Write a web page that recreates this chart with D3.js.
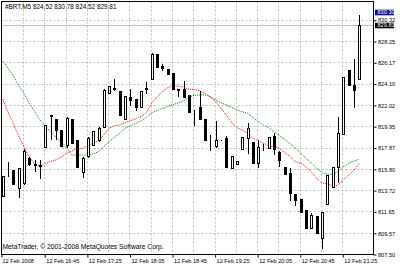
<!DOCTYPE html>
<html>
<head>
<meta charset="utf-8">
<script src="https://cdn.jsdelivr.net/npm/d3@7"></script>
<style>
	html, body { margin: 0; padding: 0; background: #fff; }
	svg { display: block; }
	text { font-family: 'Liberation Sans', Arial, sans-serif; }
</style>
</head>
<body>
<script>

var symbolTitle = '#BRT,M5  824.52 830.78 824.52 829.81';
var copyrightText = 'MetaTrader, \u00a9 2001-2008 MetaQuotes Software Corp.';

var opens = [ 813.15, 815.29, 815.68, 813.96, 814.42, 816.88, 816.24, 816.17, 817.89, 820.90,
	820.65, 819.58, 818.12, 820.65, 818.61, 815.49, 817.05, 818.12, 818.61, 819.84,
	823.21, 823.57, 823.38, 820.65, 822.82, 822.57, 821.85, 823.57, 824.52, 826.98,
	825.81, 825.52, 825.10, 823.53, 823.55, 822.99, 821.36, 821.85, 820.62, 818.02,
	818.02, 818.60, 818.83, 815.88, 816.24, 817.70, 818.80, 818.44, 816.39, 818.02,
	817.80, 819.00, 817.44, 816.00, 815.36, 813.32, 812.83, 811.79, 810.00, 811.20,
	809.06, 812.37, 814.06, 816.00, 819.19, 825.42, 823.96, 824.52 ];

var highs = [ 815.10, 816.46, 815.68, 815.88, 817.73, 816.95, 816.66, 816.66, 820.07, 821.04,
	820.65, 819.58, 820.85, 820.65, 818.61, 816.95, 818.93, 819.51, 819.84, 823.55,
	823.87, 824.55, 823.38, 822.89, 823.55, 822.57, 823.38, 824.29, 827.05, 826.98,
	825.98, 825.52, 825.10, 823.55, 824.38, 822.99, 821.53, 823.41, 820.62, 819.09,
	820.46, 818.60, 819.00, 817.05, 816.56, 818.93, 820.23, 818.44, 818.61, 818.25,
	818.87, 819.26, 817.49, 816.00, 815.85, 813.35, 812.83, 811.79, 811.47, 811.20,
	811.62, 815.20, 816.00, 820.88, 824.71, 825.42, 826.47, 830.78 ];

var lows = [ 813.15, 815.10, 814.32, 813.08, 814.32, 816.17, 815.61, 814.87, 817.89, 818.70,
	818.70, 818.02, 817.95, 818.34, 815.98, 815.00, 816.98, 818.09, 818.54, 819.84,
	823.21, 823.48, 821.04, 820.65, 822.02, 821.53, 821.85, 823.21, 824.52, 825.75,
	825.42, 825.04, 823.55, 822.89, 822.82, 821.36, 820.07, 820.62, 818.61, 817.63,
	817.89, 818.60, 815.95, 815.85, 816.24, 817.70, 817.37, 816.39, 816.00, 817.63,
	817.80, 817.24, 816.07, 815.29, 812.76, 812.27, 811.62, 810.00, 810.00, 809.52,
	808.06, 812.37, 814.06, 814.54, 819.19, 823.96, 821.79, 824.52 ];

var closes = [ 815.10, 815.25, 814.32, 815.85, 817.53, 816.27, 816.20, 816.07, 820.07, 820.99,
	819.58, 818.05, 820.75, 818.34, 816.00, 816.85, 818.80, 819.48, 819.77, 823.48,
	823.87, 823.62, 821.04, 822.89, 822.50, 821.85, 823.38, 823.67, 826.98, 825.75,
	825.62, 825.04, 823.55, 823.48, 822.82, 821.36, 821.30, 820.62, 818.61, 817.98,
	818.61, 818.60, 815.95, 817.05, 816.56, 818.93, 819.74, 816.39, 817.95, 817.98,
	818.87, 817.70, 816.66, 815.29, 813.47, 812.76, 811.62, 810.00, 811.30, 809.52,
	811.62, 815.20, 816.00, 819.26, 824.71, 823.96, 823.50, 829.81 ];

// fast (red) and slow (green) moving averages
var maFast = [ 822.57, 821.33, 820.16, 819.00, 817.92, 816.95, 816.27, 816.07, 816.32, 816.51,
	816.66, 816.90, 817.34, 817.53, 817.78, 817.80, 818.02, 818.31, 818.54, 819.09,
	819.75, 820.00, 820.07, 820.29, 820.49, 820.65, 820.88, 821.27, 822.18, 822.82,
	823.31, 823.70, 823.87, 823.87, 823.74, 823.55, 823.53, 823.41, 823.16, 822.82,
	822.34, 821.69, 821.04, 820.33, 819.80, 819.58, 819.26, 818.77, 818.51, 818.28,
	818.05, 817.95, 817.80, 817.37, 816.98, 816.49, 816.34, 816.00, 815.52, 814.87,
	814.39, 814.39, 814.06, 814.22, 814.71, 815.20, 815.68, 816.34 ];

var maSlow = [ 826.30, 825.59, 824.84, 823.90, 823.16, 822.18, 821.36, 820.55, 819.97, 819.41,
	818.87, 818.44, 817.89, 817.14, 817.14, 817.14, 817.14, 817.24, 817.47, 817.95,
	818.44, 818.87, 819.26, 819.75, 820.00, 820.23, 820.46, 820.82, 821.27, 821.46,
	821.69, 821.85, 822.04, 822.24, 822.43, 822.79, 822.96, 822.99, 822.99, 822.82,
	822.50, 822.24, 822.02, 821.79, 821.53, 821.36, 821.21, 820.82, 820.39, 820.07,
	819.80, 819.41, 819.04, 818.67, 818.22, 817.80, 817.31, 816.82, 816.34, 815.85,
	815.42, 815.29, 815.23, 815.52, 816.00, 816.34, 816.56, 816.73 ];

var priceTicks = [ 807.50, 809.57, 811.65, 813.72, 815.80, 817.87, 819.95, 822.02, 824.10, 826.17, 828.25, 830.32 ];
var bidPrice = 829.81;
var markerPrice = 831.10;
var markerLabel = '830.30';

var firstBar = Date.UTC( 2008, 1, 12, 16, 5 );
var barTimes = d3.range( opens.length ).map( function ( i ) { return new Date( firstBar + i * 300000 ); } );

var width = 400,
	height = 267,
	plot = { left: 1.5, right: 373.5, top: 1.5, bottom: 254.5 };

var bars = barTimes.map( function ( t, i ) {
	return { time: t, open: opens[i], high: highs[i], low: lows[i], close: closes[i] };
} );

var x = d3.scaleUtc()
	.domain( [ barTimes[0], barTimes[barTimes.length - 1] ] )
	.range( [ 2.7, 359.3 ] );

var y = d3.scaleLinear()
	.domain( [ 807.50, 832.14 ] )
	.range( [ 254, 1 ] );

var px = function ( t ) { return Math.round( x( t ) ); };
var py = function ( v ) { return Math.round( y( v ) ); };

var svg = d3.select( 'body' ).append( 'svg' )
	.attr( 'width', width )
	.attr( 'height', height );

svg.append( 'rect' )
	.attr( 'width', width )
	.attr( 'height', height )
	.attr( 'fill', '#fff' );

var gridTimes = barTimes.filter( function ( t, i ) { return i > 0 && i % 4 === 0; } );
var labelTimes = barTimes.filter( function ( t, i ) { return i % 8 === 0; } );

var grid = svg.append( 'g' )
	.attr( 'stroke', '#c0c0c0' )
	.attr( 'stroke-width', 1 )
	.attr( 'stroke-dasharray', '2,2' );

grid.selectAll( 'line.h' )
	.data( priceTicks.slice( 1 ) )
	.enter().append( 'line' )
	.attr( 'class', 'h' )
	.attr( 'x1', plot.left )
	.attr( 'x2', plot.right )
	.attr( 'y1', function ( d ) { return py( d ) + 0.5; } )
	.attr( 'y2', function ( d ) { return py( d ) + 0.5; } );

grid.selectAll( 'line.v' )
	.data( gridTimes )
	.enter().append( 'line' )
	.attr( 'class', 'v' )
	.attr( 'x1', function ( d ) { return px( d ) - 0.5; } )
	.attr( 'x2', function ( d ) { return px( d ) - 0.5; } )
	.attr( 'y1', plot.top )
	.attr( 'y2', plot.bottom );

// bid line
svg.append( 'line' )
	.attr( 'x1', plot.left )
	.attr( 'x2', plot.right )
	.attr( 'y1', py( bidPrice ) + 0.5 )
	.attr( 'y2', py( bidPrice ) + 0.5 )
	.attr( 'stroke', '#c0c0c0' );

var maLine = d3.line()
	.x( function ( d, i ) { return x( barTimes[i] ); } )
	.y( function ( d ) { return y( d ); } );

svg.append( 'path' )
	.datum( maSlow )
	.attr( 'd', maLine )
	.attr( 'fill', 'none' )
	.attr( 'stroke', '#008000' )
	.attr( 'stroke-width', 1 )
	.attr( 'stroke-dasharray', '1,1' );

svg.append( 'path' )
	.datum( maFast )
	.attr( 'd', maLine )
	.attr( 'fill', 'none' )
	.attr( 'stroke', '#ff0000' )
	.attr( 'stroke-width', 1 )
	.attr( 'stroke-dasharray', '1,1' );

var candles = svg.append( 'g' ).selectAll( 'g' )
	.data( bars )
	.enter().append( 'g' );

candles.append( 'line' )
	.attr( 'x1', function ( d ) { return px( d.time ) + 0.5; } )
	.attr( 'x2', function ( d ) { return px( d.time ) + 0.5; } )
	.attr( 'y1', function ( d ) { return py( d.high ); } )
	.attr( 'y2', function ( d ) { return py( d.low ) + 1; } )
	.attr( 'stroke', '#000' );

candles.append( 'rect' )
	.attr( 'x', function ( d ) { return px( d.time ) - 0.5; } )
	.attr( 'y', function ( d ) { return py( Math.max( d.open, d.close ) ) + 0.5; } )
	.attr( 'width', 2 )
	.attr( 'height', function ( d ) {
		return Math.max( 0, py( Math.min( d.open, d.close ) ) - py( Math.max( d.open, d.close ) ) );
	} )
	.attr( 'fill', function ( d ) { return d.close >= d.open ? '#fff' : '#000'; } )
	.attr( 'stroke', '#000' );

// frame
svg.append( 'rect' )
	.attr( 'x', plot.left )
	.attr( 'y', plot.top )
	.attr( 'width', plot.right - plot.left )
	.attr( 'height', plot.bottom - plot.top )
	.attr( 'fill', 'none' )
	.attr( 'stroke', '#000' );

var yAxis = svg.append( 'g' )
	.attr( 'transform', 'translate(' + plot.right + ',0.5)' )
	.call( d3.axisRight( y ).tickValues( priceTicks ).tickFormat( d3.format( '.2f' ) ).tickSize( 3 ).tickPadding( 1.5 ) );

yAxis.select( '.domain' ).remove();
yAxis.selectAll( 'text' )
	.style( 'font-size', '5.6px' )
	.style( 'font-family', "'Liberation Sans', Arial, sans-serif" )
	.attr( 'fill', '#000' );

var xAxis = svg.append( 'g' )
	.attr( 'transform', 'translate(-0.5,' + plot.bottom + ')' )
	.call( d3.axisBottom( x ).tickValues( labelTimes ).tickSize( 3 ).tickPadding( 2 )
		.tickFormat( function ( d, i ) {
			return i === 0 ? d3.utcFormat( '%d %b %Y' )( d ) : d3.utcFormat( '%d %b %H:%M' )( d );
		} ) );

xAxis.select( '.domain' ).remove();
xAxis.selectAll( '.tick line' )
	.attr( 'transform', function ( d, i ) { return i === 0 ? 'translate(' + ( plot.left + 0.5 - x( d ) ) + ',0)' : null; } );
xAxis.selectAll( 'text' )
	.attr( 'text-anchor', 'start' )
	.attr( 'dx', function ( d, i ) { return i === 0 ? 1 + plot.left - x( d ) : 1; } )
	.style( 'font-size', '5.6px' )
	.style( 'font-family', "'Liberation Sans', Arial, sans-serif" )
	.attr( 'fill', '#000' );

// price markers on the scale
var markers = [
	{ value: markerPrice, label: markerLabel, fill: '#0a0a8c' },
	{ value: bidPrice, label: d3.format( '.2f' )( bidPrice ), fill: '#000' }
];

var markerG = svg.selectAll( 'g.marker' )
	.data( markers )
	.enter().append( 'g' )
	.attr( 'class', 'marker' )
	.attr( 'transform', function ( d ) { return 'translate(' + ( plot.right + 1.5 ) + ',' + ( py( d.value ) + 0.5 ) + ')'; } );

markerG.append( 'rect' )
	.attr( 'x', 0 )
	.attr( 'y', -2.8 )
	.attr( 'width', 19 )
	.attr( 'height', 5.6 )
	.attr( 'fill', function ( d ) { return d.fill; } );

markerG.append( 'text' )
	.attr( 'x', 2.5 )
	.attr( 'dy', '0.35em' )
	.attr( 'fill', '#fff' )
	.style( 'font-size', '5.6px' )
	.text( function ( d ) { return d.label; } );

svg.append( 'text' )
	.attr( 'x', 5 )
	.attr( 'y', 8.5 )
	.attr( 'fill', '#000' )
	.style( 'font-size', '6.4px' )
	.text( symbolTitle );

svg.append( 'text' )
	.attr( 'x', 2.5 )
	.attr( 'y', 249 )
	.attr( 'fill', '#000' )
	.style( 'font-size', '6.7px' )
	.text( copyrightText );

</script>
</body>
</html>
